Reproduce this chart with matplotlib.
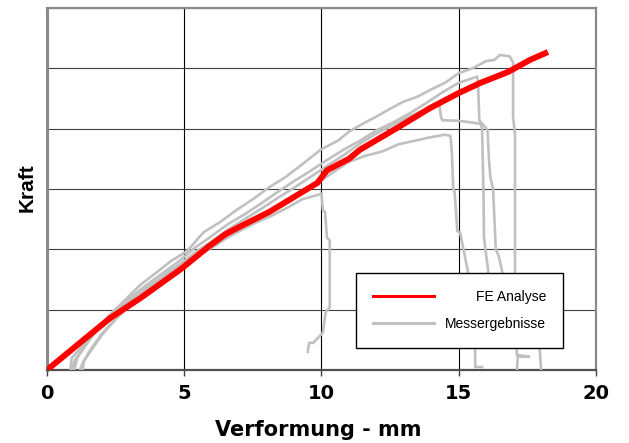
import matplotlib

matplotlib.use("Agg")
import matplotlib.pyplot as plt

# FE prediction: deflection (mm) vs force (grid units, axis has no scale)
fe_x = [0.0, 1.2, 2.3, 3.4, 4.9, 5.9, 6.5, 7.0, 8.1, 9.3, 9.85, 10.2, 11.0,
        11.4, 12.75, 13.95, 15.0, 15.8, 16.8, 17.6, 18.15]
fe_y = [0.0, 0.45, 0.86, 1.19, 1.68, 2.05, 2.25, 2.37, 2.62, 2.95, 3.1, 3.31,
        3.5, 3.65, 4.01, 4.34, 4.59, 4.76, 4.94, 5.14, 5.25]

test1_x = [1.0, 1.1, 1.5, 2.0, 2.3, 2.8, 3.4, 4.0, 4.5, 5.1, 5.7, 6.3, 6.9,
           7.5, 8.1, 8.7, 9.3, 10.0, 10.6, 11.0, 11.5, 12.0, 12.5, 13.0,
           13.5, 14.0, 14.5, 15.0, 15.5, 16.0, 16.3, 16.5, 16.85, 16.98,
           16.98, 17.05, 17.05, 17.1, 17.95, 18.0]
test1_y = [0.0, 0.2, 0.47, 0.77, 0.92, 1.14, 1.41, 1.62, 1.8, 1.97, 2.28,
           2.45, 2.65, 2.83, 3.03, 3.2, 3.41, 3.66, 3.8, 3.95, 4.08, 4.2,
           4.33, 4.45, 4.53, 4.65, 4.76, 4.92, 5.0, 5.12, 5.14, 5.22, 5.2,
           5.1, 4.2, 3.9, 1.6, 0.6, 0.35, 0.0]

test2_x = [0.9, 1.0, 1.4, 1.9, 2.4, 3.0, 3.6, 4.2, 4.8, 5.4, 6.0, 6.6, 7.2,
           7.8, 8.4, 9.0, 9.6, 10.2, 10.8, 11.4, 12.0, 12.6, 13.2, 13.8,
           14.4, 15.0, 15.4, 15.66, 15.7, 15.75, 16.05, 16.1, 16.15, 16.25,
           16.35, 16.45, 16.6, 17.1, 17.12, 17.6, 17.15, 17.12]
test2_y = [0.0, 0.15, 0.42, 0.7, 0.95, 1.18, 1.4, 1.6, 1.8, 2.03, 2.22, 2.42,
           2.58, 2.76, 2.95, 3.13, 3.3, 3.48, 3.65, 3.8, 3.97, 4.1, 4.25,
           4.42, 4.6, 4.76, 4.82, 4.86, 4.8, 4.14, 3.98, 3.5, 3.2, 3.0,
           2.0, 1.9, 1.6, 0.5, 0.25, 0.22, 0.22, 0.0]

test3_x = [1.2, 1.3, 1.6, 2.0, 2.5, 3.0, 3.6, 4.2, 4.8, 5.4, 6.0, 6.6, 7.2,
           7.8, 8.4, 9.0, 9.6, 10.2, 10.8, 11.4, 12.0, 12.6, 13.2, 13.8,
           14.3, 14.35, 14.4, 15.0, 15.5, 15.8, 15.85, 15.9, 15.92, 16.0,
           16.07, 16.1]
test3_y = [0.0, 0.12, 0.32, 0.58, 0.84, 1.07, 1.3, 1.52, 1.74, 1.95, 2.13,
           2.33, 2.5, 2.67, 2.85, 3.02, 3.2, 3.38, 3.56, 3.75, 3.92, 4.06,
           4.2, 4.32, 4.4, 4.2, 4.14, 4.13, 4.1, 4.08, 4.0, 3.0, 2.2, 1.9,
           1.66, 0.6]

test4_x = [1.3, 1.35, 1.6, 2.0, 2.6, 3.2, 3.8, 4.4, 5.0, 5.6, 6.2, 6.8, 7.4,
           8.0, 8.6, 9.2, 9.8, 10.4, 11.0, 11.6, 12.2, 12.8, 13.4, 14.0,
           14.5, 14.7, 14.75, 14.8, 14.85, 14.95, 15.05, 15.15, 15.35, 15.5,
           15.6, 15.6, 15.85]
test4_y = [0.0, 0.15, 0.35, 0.6, 0.9, 1.15, 1.38, 1.58, 1.75, 1.92, 2.08,
           2.28, 2.44, 2.6, 2.75, 2.92, 3.08, 3.27, 3.45, 3.55, 3.62, 3.74,
           3.8, 3.86, 3.9, 3.88, 3.6, 3.0, 2.95, 2.3, 2.28, 2.05, 1.6, 1.0,
           0.35, 0.05, 0.05]

test5_x = [0.85, 0.9, 1.2, 1.6, 2.1, 2.7, 3.3, 4.0, 4.6, 5.2, 5.8, 6.4, 7.0,
           7.6, 8.2, 8.8, 9.3, 9.7, 10.0, 10.05, 10.13, 10.2, 10.3, 10.3,
           10.15, 10.05, 9.7, 9.55, 9.5]
test5_y = [0.0, 0.2, 0.35, 0.55, 0.8, 1.02, 1.25, 1.48, 1.68, 1.85, 2.0,
           2.15, 2.3, 2.44, 2.56, 2.7, 2.83, 2.88, 2.92, 2.65, 2.62, 2.19,
           2.15, 1.04, 0.95, 0.62, 0.45, 0.45, 0.3]

tests = [(test1_x, test1_y), (test2_x, test2_y), (test3_x, test3_y),
         (test4_x, test4_y), (test5_x, test5_y)]

x_ticks = [0, 5, 10, 15, 20]
y_grid = [0, 1, 2, 3, 4, 5, 6]

fig = plt.figure(figsize=(6.29, 4.43), dpi=100)
ax = fig.add_axes([0.0747, 0.1648, 0.8728, 0.8172])

gray = "#c0c0c0"
for i, (tx, ty) in enumerate(tests):
    ax.plot(tx, ty, color=gray, lw=1.9, solid_joinstyle="miter",
            label="Messergebnisse" if i == 0 else "_nolegend_", zorder=3)
ax.plot(fe_x, fe_y, color="#ff0000", lw=4.3, label="FE Analyse", zorder=4)

ax.set_xlim(0, 20)
ax.set_ylim(0, 6)
ax.set_xticks(x_ticks)
ax.set_yticks(y_grid)
ax.set_yticklabels([])
ax.tick_params(axis="y", length=0)
ax.tick_params(axis="x", direction="out", length=4, width=1, color="#404040",
               pad=6)
for lbl in ax.get_xticklabels():
    lbl.set_fontfamily("DejaVu Sans")
    lbl.set_fontweight("bold")
    lbl.set_fontsize(14)

ax.grid(axis="x", color="black", lw=0.8, zorder=1)
ax.grid(axis="y", color="#404040", lw=0.8, zorder=1)
ax.set_axisbelow(True)

for side in ("left", "top", "right"):
    ax.spines[side].set_color("#8a8a8a")
ax.spines["left"].set_linewidth(2.2)
ax.spines["top"].set_linewidth(1.6)
ax.spines["right"].set_linewidth(1.6)
ax.spines["bottom"].set_color("#505050")
ax.spines["bottom"].set_linewidth(1.6)

ax.set_xlabel("Verformung - mm", fontfamily="DejaVu Sans", fontweight="bold",
              fontsize=15)
ax.xaxis.set_label_coords(0.494, -0.138)
ax.set_ylabel("Kraft", fontfamily="Liberation Sans", fontweight="bold",
              fontsize=15)
ax.yaxis.set_label_coords(-0.018, 0.503)

handles, labels = ax.get_legend_handles_labels()
order = [labels.index("FE Analyse"), labels.index("Messergebnisse")]
leg = ax.legend([handles[i] for i in order], [labels[i] for i in order],
                loc="upper left", bbox_to_anchor=(0.563, 0.268),
                borderaxespad=0, fancybox=False, framealpha=1,
                edgecolor="black", prop={"family": "Liberation Sans", "size": 10},
                handlelength=4.4, handletextpad=0.8, labelspacing=0.95,
                borderpad=1.2)
leg.get_frame().set_linewidth(1.0)
leg.set_zorder(10)
for line in leg.get_lines():
    line.set_linewidth(2.2)

# right-align the legend labels: nudge the shorter ones over by the difference
renderer = fig.canvas.get_renderer()
widths = [t.get_window_extent(renderer).width for t in leg.get_texts()]
widest = max(widths)
for t, w in zip(leg.get_texts(), widths):
    t.set_position((widest - w, 0))

fig.savefig("out.png", dpi=100)
